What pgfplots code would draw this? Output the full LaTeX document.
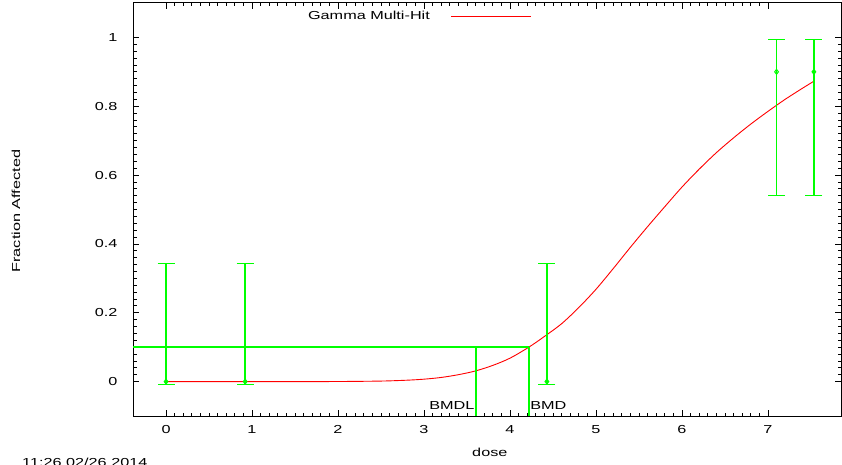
\documentclass[border=0pt]{standalone}
\usepackage{fontspec}
\setmainfont{Liberation Sans}[FakeStretch=1.4]
\usepackage{pgfplots}
\pgfplotsset{compat=1.18}
\newcommand\myfont{\fontsize{11.6bp}{14bp}\selectfont}
\definecolor{mygreen}{rgb}{0,1,0}
\begin{document}
\begin{tikzpicture}
\useasboundingbox (0,0) rectangle (842bp,465bp);
\begin{axis}[
  at={(133bp,49bp)}, anchor=south west,
  scale only axis, width=708bp, height=413bp,
  xmin=-0.384, xmax=7.85, ymin=-0.1, ymax=1.1,
  xtick={0,1,...,7}, ytick={0,0.2,...,1.0},
  minor x tick num=9, minor y tick num=9,
  major tick length=6bp, minor tick length=3.5bp,
  tick style={black, line width=0.8bp},
  axis line style={line width=1bp},
  /pgf/number format/assume math mode=true,
  tick label style={font=\myfont},
  yticklabel style={xshift=-12bp},
  xticklabel style={yshift=-6bp},
  xlabel={dose}, ylabel={Fraction Affected},
  every axis x label/.style={at={(axis description cs:0.504,-0.087)}, anchor=center, font=\myfont},
  every axis y label/.style={at={(axis description cs:-0.1652,0.496)}, rotate=90, anchor=center, font=\myfont},
  legend plot pos=right,
  legend style={draw=none, fill=none, at={(axis description cs:0.247,0.9685)}, anchor=west,
    inner sep=0pt, font=\myfont, nodes={inner sep=0pt}, column sep=21bp},
  legend image code/.code={\draw[#1] (0bp,0bp) -- (80bp,0bp);},
  clip=true,
]
\addplot[red, line width=0.9bp, smooth] coordinates {
(0,0) (1.0,0) (1.5,0) (2.0,0.0002) (2.5,0.0015) (2.8,0.004) (3.0,0.007) (3.2,0.012)
(3.4,0.02) (3.6,0.031) (3.8,0.047) (4.0,0.068) (4.22,0.1) (4.4,0.131) (4.6,0.168)
(4.8,0.215) (5.0,0.268) (5.2,0.328) (5.4,0.39) (5.6,0.45) (5.8,0.508) (6.0,0.565)
(6.2,0.617) (6.4,0.665) (6.6,0.708) (6.8,0.748) (7.0,0.785) (7.2,0.82) (7.4,0.852) (7.53,0.872)
};
\addlegendentry{Gamma Multi-Hit}
\addplot[forget plot, color=mygreen, line width=1.3bp, only marks, mark=diamond, mark size=2.5bp,
  mark options={line width=1bp, fill=white},
  error bars/.cd, y dir=both, y explicit,
  error bar style={line width=1.3bp, color=mygreen},
  error mark options={rotate=90, mark size=8.5bp, line width=1.3bp, color=mygreen}]
table[x=d, y=p, y error plus=ep, y error minus=em] {
d    p    ep     em
0    0    0.343  0.008
0.92 0    0.343  0.008
4.43 0    0.343  0.008
7.10 0.9  0.094  0.36
7.535 0.9  0.094  0.36
};
\addplot[color=mygreen, line width=1.5bp, forget plot] coordinates {(-0.384,0.1) (4.221,0.1)};
\addplot[color=mygreen, line width=1.3bp, forget plot] coordinates {(3.605,-0.1) (3.605,0.1)};
\addplot[color=mygreen, line width=1.3bp, forget plot] coordinates {(4.221,-0.1) (4.221,0.1)};
\node[anchor=base east, inner sep=0pt, font=\myfont] at (axis cs:3.59,-0.081) {BMDL};
\node[anchor=base west, inner sep=0pt, font=\myfont] at (axis cs:4.235,-0.081) {BMD};
\end{axis}
\node[anchor=north west, inner sep=0pt, font=\myfont] at (22bp,7bp) {11:26 02/26 2014};
\end{tikzpicture}
\end{document}
